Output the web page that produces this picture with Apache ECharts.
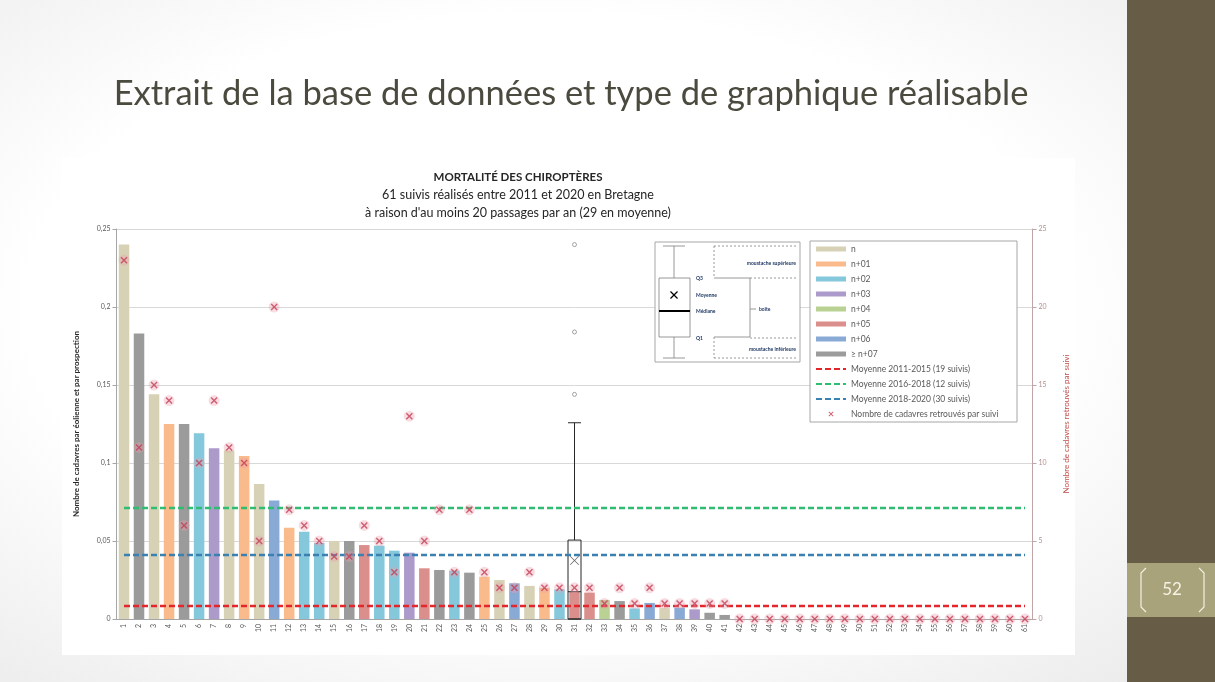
<!DOCTYPE html>
<html><head><meta charset="utf-8">
<script src="https://cdn.jsdelivr.net/npm/echarts@6/dist/echarts.min.js"></script>
<style>
html,body{margin:0;padding:0;width:1215px;height:682px;overflow:hidden;}
body{background:radial-gradient(ellipse at 45% 45%, #ffffff 55%, #e9e9e9 100%);}
#c{width:1215px;height:682px;}
</style></head><body><div id="c"></div>
<script>
const categories = ['1','2','3','4','5','6','7','8','9','10','11','12','13','14','15','16','17','18','19','20',
 '21','22','23','24','25','26','27','28','29','30','31','32','33','34','35','36','37','38','39','40',
 '41','42','43','44','45','46','47','48','49','50','51','52','53','54','55','56','57','58','59','60','61'];
// cadavres par éolienne et par prospection (axe gauche)
const barValues = [0.240,0.183,0.144,0.125,0.125,0.119,0.1095,0.108,0.1045,0.0865,
 0.076,0.0585,0.056,0.0487,0.050,0.050,0.0474,0.0470,0.0438,0.0425,
 0.0325,0.0314,0.0310,0.0297,0.0271,0.0250,0.0229,0.0212,0.0200,0.0190,
 0.0175,0.0169,0.0122,0.0115,0.0068,0.0103,0.0070,0.0073,0.0062,0.0040,
 0.0026,0,0,0,0,0,0,0,0,0,0,0,0,0,0,0,0,0,0,0,0];
// groupe (0 = n ... 7 = ≥ n+07)
const groupOf = [0,7,0,1,7,2,3,0,1,0,
 6,1,2,2,0,7,5,2,2,3,
 5,7,2,7,1,0,6,0,1,2,
 5,5,4,7,2,6,0,6,3,7,
 7,0,0,0,0,0,0,0,0,0,0,0,0,0,0,0,0,0,0,0,0];
// nombre de cadavres retrouvés par suivi (axe droit)
const cadavers = [23,11,15,14,6,10,14,11,10,5,
 20,7,6,5,4,4,6,5,3,13,
 5,7,3,7,3,2,2,3,2,2,
 2,2,1,2,1,2,1,1,1,1,
 1,0,0,0,0,0,0,0,0,0,0,0,0,0,0,0,0,0,0,0,0];
const groupNames = ['n','n+01','n+02','n+03','n+04','n+05','n+06','≥ n+07'];
const groupColors = ['#d7d2b6','#f9bb8c','#85c8dc','#ac9acb','#b9d293','#da8f8c','#8aaad6','#9b9b9b'];
const meanNames = ['Moyenne 2011-2015 (19 suivis)','Moyenne 2016-2018 (12 suivis)','Moyenne 2018-2020 (30 suivis)'];
const meanValues = [0.0083,0.0712,0.0410];
const meanColors = ['#e3262c','#2fbd72','#3a80b0'];
const scatterName = 'Nombre de cadavres retrouvés par suivi';
// boîte à moustaches (sur la catégorie 31)
const boxCategory = '31';
const boxStats = [0, 0, 0.0175, 0.0506, 0.1258];
const boxMean = 0.0375;
const boxOutliers = [0.144, 0.184, 0.240];
const leftTickLabels = ['0','0,05','0,1','0,15','0,2','0,25'];
const rightTickLabels = ['0','5','10','15','20','25'];

const FONT = 'Lato, "Open Sans", sans-serif';
const chart = echarts.init(document.getElementById('c'));

const series = [];
groupNames.forEach((name, g) => {
  series.push({
    type: 'bar', name, yAxisIndex: 0, barGap: '-100%', barCategoryGap: '30%',
    itemStyle: {color: groupColors[g]},
    data: barValues.map((v, i) => groupOf[i] === g && v > 0 ? v : '-'),
    z: 2
  });
});
series.push({
  type: 'boxplot', name: 'box', yAxisIndex: 0, boxWidth: [13, 13],
  itemStyle: {color: 'rgba(0,0,0,0)', borderColor: '#262626', borderWidth: 1},
  encode: {x: 0, y: [1, 2, 3, 4, 5]},
  data: [[boxCategory].concat(boxStats)], z: 3, silent: true
});
series.push({
  type: 'scatter', name: 'outliers', yAxisIndex: 0, symbol: 'circle', symbolSize: 4,
  itemStyle: {color: '#ffffff', borderColor: '#8c8c8c', borderWidth: 1},
  data: boxOutliers.map(v => [boxCategory, v]), z: 4
});
series.push({
  type: 'scatter', name: 'mean', yAxisIndex: 0,
  symbol: 'path://M0,0.6 L0.6,0 L5,4.4 L9.4,0 L10,0.6 L5.6,5 L10,9.4 L9.4,10 L5,5.6 L0.6,10 L0,9.4 L4.4,5 Z',
  symbolSize: 9, itemStyle: {color: '#404040'},
  data: [[boxCategory, boxMean]], z: 5
});
meanNames.forEach((name, k) => {
  series.push({
    type: 'line', name, yAxisIndex: 0, symbol: 'none',
    lineStyle: {color: meanColors[k], width: 2.5, type: [6, 3]},
    itemStyle: {color: meanColors[k]},
    data: categories.map(() => meanValues[k]), z: 6
  });
});
// halo behind the cadaver markers
series.push({
  type: 'scatter', name: 'halo', yAxisIndex: 1, symbol: 'circle', symbolSize: 11,
  itemStyle: {color: 'rgba(232,160,172,0.45)'}, silent: true,
  data: cadavers, z: 7
});
series.push({
  type: 'scatter', name: scatterName, yAxisIndex: 1,
  symbol: 'path://M0,1.4 L1.4,0 L5,3.6 L8.6,0 L10,1.4 L6.4,5 L10,8.6 L8.6,10 L5,6.4 L1.4,10 L0,8.6 L3.6,5 Z',
  symbolSize: 7, symbolKeepAspect: true,
  itemStyle: {color: '#c43c55'},
  data: cadavers, z: 8
});

const navy = '#1f3864';
const dash = [2, 2];
const L = (x1, y1, x2, y2, s) => ({type: 'line', shape: {x1, y1, x2, y2}, style: Object.assign({stroke: '#7f7f7f', lineWidth: 0.8}, s || {}), z: 10});
const T = (x, y, text, s) => ({type: 'text', x, y, style: Object.assign({text, fill: navy, font: 'bold 5px ' + FONT, textVerticalAlign: 'middle'}, s || {}), z: 11});

const graphic = [
  {type: 'rect', shape: {x: 62, y: 158, width: 1013, height: 497}, style: {fill: '#ffffff'}, z: -10},
  {type: 'rect', shape: {x: 1127, y: 0, width: 88, height: 682}, style: {fill: '#675d47'}, z: -5},
  {type: 'rect', shape: {x: 1127, y: 563, width: 88, height: 54}, style: {fill: '#a9a37c'}, z: -4},
  {type: 'polyline', shape: {points: [[1146, 568], [1141, 573], [1141, 607], [1146, 612]]}, style: {stroke: '#f3f0e0', lineWidth: 1.2, fill: null}, z: 1},
  {type: 'polyline', shape: {points: [[1199, 568], [1204, 573], [1204, 607], [1199, 612]]}, style: {stroke: '#f3f0e0', lineWidth: 1.2, fill: null}, z: 1},
  {type: 'text', x: 1172, y: 590, style: {text: '52', fill: '#f6f3e4', font: '17px ' + FONT, textAlign: 'center', textVerticalAlign: 'middle'}},
  {type: 'text', x: 571, y: 94, style: {text: 'Extrait de la base de données et type de graphique réalisable', fill: '#4b4a3e', font: '34.5px ' + FONT, textAlign: 'center', textVerticalAlign: 'middle'}},
  {type: 'text', x: 518, y: 177, style: {text: 'MORTALITÉ DES CHIROPTÈRES', fill: '#262626', font: 'bold 11.5px ' + FONT, textAlign: 'center', textVerticalAlign: 'middle'}},
  {type: 'text', x: 518, y: 195, style: {text: '61 suivis réalisés entre 2011 et 2020 en Bretagne', fill: '#262626', font: '12.5px ' + FONT, textAlign: 'center', textVerticalAlign: 'middle'}},
  {type: 'text', x: 518, y: 213, style: {text: "à raison d'au moins 20 passages par an (29 en moyenne)", fill: '#262626', font: '12.5px ' + FONT, textAlign: 'center', textVerticalAlign: 'middle'}},
  // legend frame
  {type: 'rect', shape: {x: 810, y: 241, width: 207, height: 181}, style: {fill: '#ffffff', stroke: '#a6a6a6', lineWidth: 1}, z: 9},
  // inset explanatory box plot
  {type: 'rect', shape: {x: 655, y: 242, width: 145, height: 120}, style: {fill: '#ffffff', stroke: '#a6a6a6', lineWidth: 1}, z: 9},
  L(674, 246, 674, 278), L(674, 337, 674, 358), L(663, 246, 685, 246), L(663, 358, 685, 358),
  {type: 'rect', shape: {x: 659, y: 278, width: 31, height: 59}, style: {fill: '#ffffff', stroke: '#7f7f7f', lineWidth: 0.8}, z: 10},
  L(659, 311, 690, 311, {stroke: '#000', lineWidth: 2}),
  L(670.5, 291.5, 677.5, 298.5, {stroke: '#000', lineWidth: 1.3}), L(670.5, 298.5, 677.5, 291.5, {stroke: '#000', lineWidth: 1.3}),
  T(696, 278, 'Q3'), T(696, 295, 'Moyenne'), T(696, 311, 'Médiane'), T(696, 338, 'Q1'),
  L(714, 246, 714, 278, {lineDash: dash}), L(714, 246, 797, 246, {lineDash: dash}), L(750, 278, 797, 278, {lineDash: dash}),
  T(796, 263, 'moustache supérieure', {textAlign: 'right'}),
  L(714, 278, 750, 278), L(750, 278, 750, 337), L(714, 337, 750, 337), L(750, 309, 756, 309),
  T(759, 309, 'boîte'),
  L(714, 337, 714, 358, {lineDash: dash}), L(750, 338, 797, 338, {lineDash: dash}), L(714, 358, 797, 358, {lineDash: dash}),
  T(796, 349, 'moustache inférieure', {textAlign: 'right'})
];

chart.setOption({
  backgroundColor: 'transparent',
  animation: false,
  textStyle: {fontFamily: FONT},
  graphic,
  legend: {
    orient: 'vertical', left: 815, top: 244, padding: 0, z: 12,
    itemWidth: 30, itemHeight: 5, itemGap: 5,
    textStyle: {fontSize: 8.5, color: '#595959', lineHeight: 10, fontFamily: FONT},
    data: groupNames.map(n => ({name: n, icon: 'rect'}))
      .concat(meanNames.map(n => ({name: n, itemStyle: {opacity: 0}})))
      .concat([{name: scatterName}])
  },
  grid: {left: 116.5, right: 182.5, top: 229, bottom: 63, containLabel: false},
  xAxis: {
    type: 'category', data: categories,
    axisLine: {lineStyle: {color: '#a6a6a6'}},
    axisTick: {alignWithLabel: false, length: 4, lineStyle: {color: '#a6a6a6'}},
    axisLabel: {rotate: 90, fontSize: 7, color: '#595959', margin: 5, interval: 0}
  },
  yAxis: [{
    type: 'value', min: 0, max: 0.25, interval: 0.05, position: 'left',
    name: 'Nombre de cadavres par éolienne et par prospection', nameLocation: 'middle', nameGap: 36, nameRotate: 90,
    nameTextStyle: {fontSize: 8, fontWeight: 'bold', color: '#262626'},
    axisLine: {show: true, lineStyle: {color: '#a6a6a6'}},
    axisTick: {show: true, length: 4, lineStyle: {color: '#a6a6a6'}},
    axisLabel: {fontSize: 7, color: '#595959', margin: 6, formatter: (v, i) => leftTickLabels[i]},
    splitLine: {lineStyle: {color: '#d9d9d9', width: 1}}
  }, {
    type: 'value', min: 0, max: 25, interval: 5, position: 'right',
    name: 'Nombre de cadavres retrouvés par suivi', nameLocation: 'middle', nameGap: 30, nameRotate: 90,
    nameTextStyle: {fontSize: 8, color: '#c0504d'},
    axisLine: {show: true, lineStyle: {color: '#bfa5a5'}},
    axisTick: {show: true, length: 4, lineStyle: {color: '#bfa5a5'}},
    axisLabel: {fontSize: 7, color: '#b09090', margin: 6, formatter: (v, i) => rightTickLabels[i]},
    splitLine: {show: false}
  }],
  series
});
</script></body></html>
